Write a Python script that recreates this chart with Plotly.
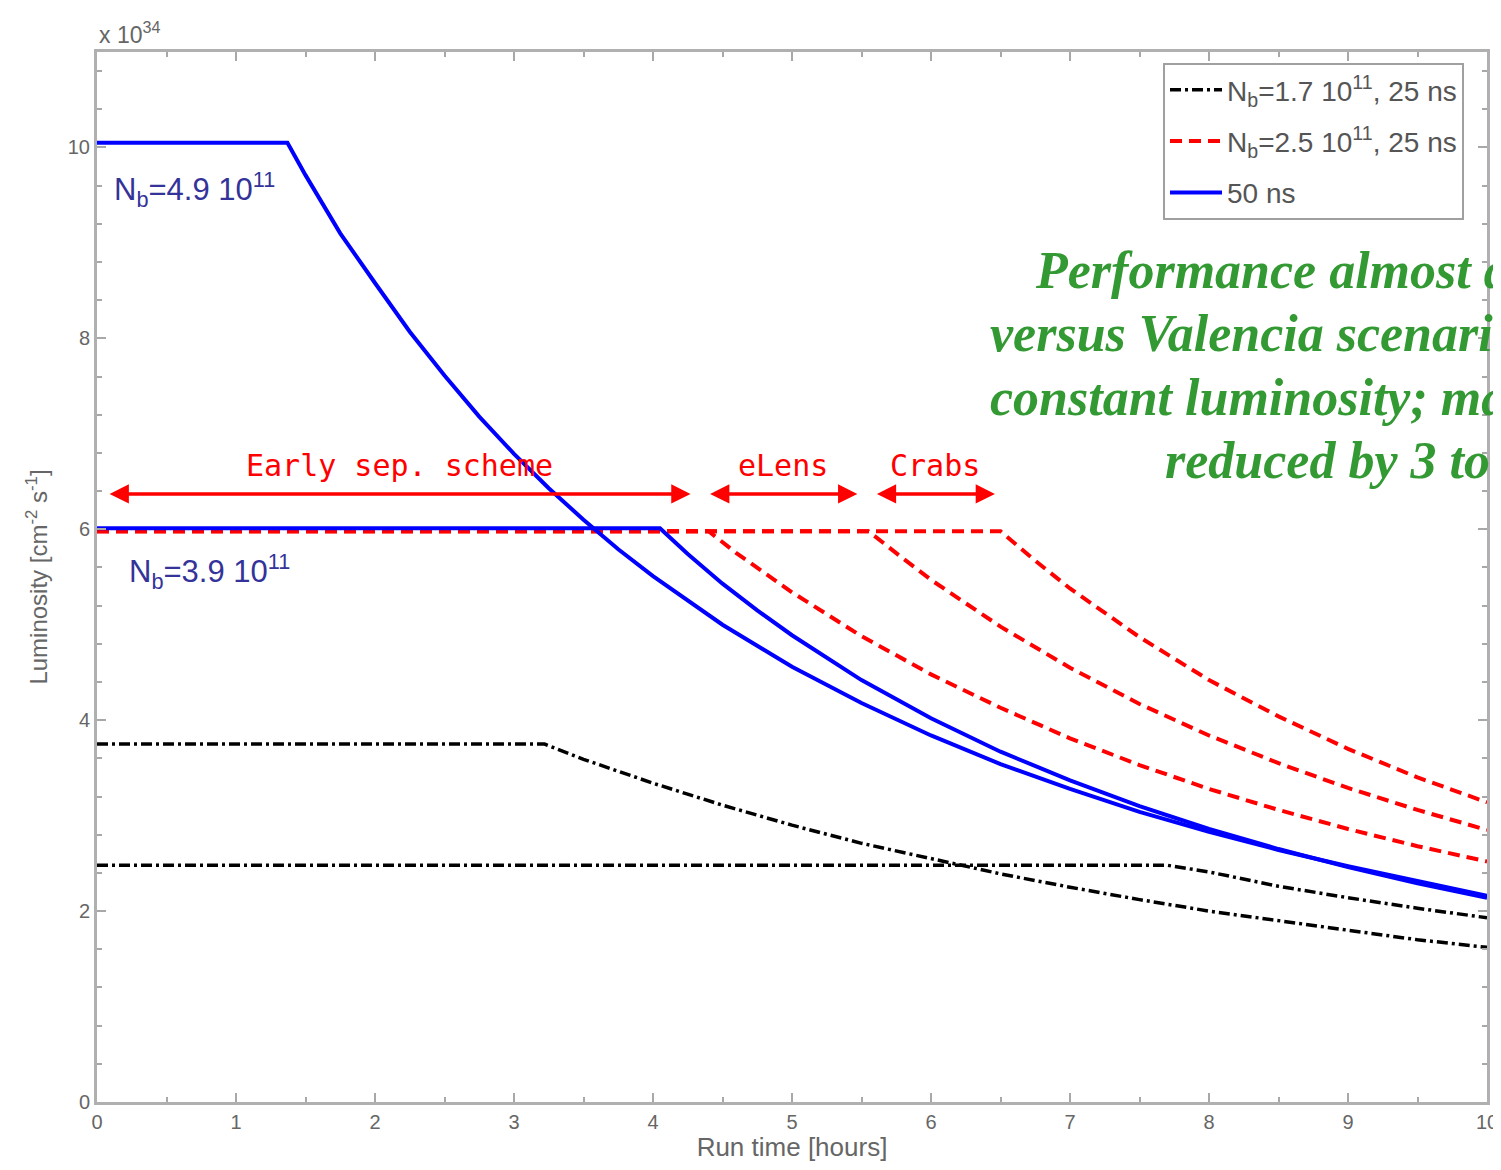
import plotly.graph_objects as go

# ---- data (luminosity in units of 1e34 cm^-2 s^-1, time in hours) ----
# 50 ns scenario (blue)
blue_a_t = [0, 1.37, 1.5, 1.75, 2.0, 2.25, 2.5, 2.75, 3.0, 3.25, 3.5, 3.75, 4.0, 4.5, 5.0,
            5.5, 6.0, 6.5, 7.0, 7.5, 8.0, 8.5, 9.0, 9.5, 10.0]
blue_a_L = [10.05, 10.05, 9.71, 9.10, 8.58, 8.07, 7.61, 7.18, 6.79, 6.43, 6.10, 5.79, 5.51, 5.00, 4.56,
            4.18, 3.84, 3.54, 3.28, 3.04, 2.83, 2.64, 2.47, 2.31, 2.16]
blue_b_t = [0, 4.05, 4.25, 4.5, 4.75, 5.0, 5.5, 6.0, 6.5, 7.0, 7.5, 8.0, 8.5, 9.0, 9.5, 10.0]
blue_b_L = [6.01, 6.01, 5.74, 5.43, 5.15, 4.89, 4.42, 4.02, 3.67, 3.37, 3.10, 2.86, 2.65, 2.46, 2.29, 2.14]

# Nb = 2.5e11, 25 ns (red)
red1_t = [0, 4.4, 4.6, 4.8, 5.0, 5.5, 6.0, 6.5, 7.0, 7.5, 8.0, 8.5, 9.0, 9.5, 10.0]
red1_L = [5.98, 5.98, 5.75, 5.54, 5.34, 4.88, 4.48, 4.13, 3.81, 3.53, 3.28, 3.06, 2.86, 2.68, 2.52]
red2_t = [0, 5.55, 5.75, 6.0, 6.5, 7.0, 7.5, 8.0, 8.5, 9.0, 9.5, 10.0]
red2_L = [5.98, 5.98, 5.75, 5.47, 4.98, 4.55, 4.17, 3.84, 3.55, 3.29, 3.06, 2.85]
red3_t = [0, 6.5, 6.75, 7.0, 7.5, 8.0, 8.5, 9.0, 9.5, 10.0]
red3_L = [5.98, 5.98, 5.67, 5.38, 4.87, 4.42, 4.04, 3.70, 3.40, 3.14]

# Nb = 1.7e11, 25 ns (black)
blk1_t = [0, 3.22, 3.5, 4.0, 4.5, 5.0, 5.5, 6.0, 6.5, 7.0, 7.5, 8.0, 8.5, 9.0, 9.5, 10.0]
blk1_L = [3.75, 3.75, 3.59, 3.34, 3.11, 2.90, 2.71, 2.55, 2.39, 2.25, 2.12, 2.00, 1.90, 1.80, 1.70, 1.62]
blk2_t = [0, 7.7, 8.0, 8.5, 9.0, 9.5, 10.0]
blk2_L = [2.48, 2.48, 2.41, 2.26, 2.14, 2.03, 1.93]

# legend labels
leg_black = "N<sub>b</sub>=1.7 10<sup>11</sup>, 25 ns"
leg_red = "N<sub>b</sub>=2.5 10<sup>11</sup>, 25 ns"
leg_blue = "50 ns"

# span arrows (start, end, label)
arrow_y = 6.37
arrow_spans = [(0.08, 4.27, "Early sep. scheme"), (4.40, 5.47, "eLens"), (5.60, 6.46, "Crabs")]

green_lines = ["Performance almost d", "versus Valencia scenario",
               "constant luminosity; ma", "reduced by 3 to"]

fig = go.Figure()

BLACK_DASH = "11px,4px,3px,4px"
RED_DASH = "12px,7px"

for i, (t, L) in enumerate([(blk1_t, blk1_L), (blk2_t, blk2_L)]):
    fig.add_trace(go.Scatter(x=t, y=L, mode="lines", name=leg_black,
                             legendgroup="black", showlegend=(i == 0),
                             line=dict(color="black", width=3.5, dash=BLACK_DASH)))
for i, (t, L) in enumerate([(red1_t, red1_L), (red2_t, red2_L), (red3_t, red3_L)]):
    fig.add_trace(go.Scatter(x=t, y=L, mode="lines", name=leg_red,
                             legendgroup="red", showlegend=(i == 0),
                             line=dict(color="#ff0000", width=4, dash=RED_DASH)))
for i, (t, L) in enumerate([(blue_a_t, blue_a_L), (blue_b_t, blue_b_L)]):
    fig.add_trace(go.Scatter(x=t, y=L, mode="lines", name=leg_blue,
                             legendgroup="blue", showlegend=(i == 0),
                             line=dict(color="#0000ff", width=4)))

# page has an 8px body margin; plot area target in page pixels
OFF = 8
PL, PR, PT, PB = 97, 1487, 52, 1102
FW, FH = 1501 - 2 * OFF, 1170 - 2 * OFF


def px2paper_x(px):
    return (px - PL) / (PR - PL)


def px2paper_y(py):
    return (PB - py) / (PB - PT)


annotations = []
for x0, x1, label in arrow_spans:
    annotations.append(dict(x=x1, y=arrow_y, ax=x0, ay=arrow_y, xref="x", yref="y",
                            axref="x", ayref="y", text="", showarrow=True,
                            arrowhead=2, arrowside="end+start", arrowsize=1.1,
                            arrowwidth=3.5, arrowcolor="#ff0000"))
    annotations.append(dict(x=(x0 + x1) / 2, y=6.67, xref="x", yref="y", text=label,
                            showarrow=False,
                            font=dict(family="DejaVu Sans Mono", size=30, color="#ff0000")))

annotations.append(dict(x=0.108, y=9.56, xref="x", yref="y", xanchor="left",
                        text="N<sub>b</sub>=4.9 10<sup>11</sup>", showarrow=False,
                        font=dict(family="Liberation Sans", size=31, color="#333399")))
annotations.append(dict(x=0.216, y=5.56, xref="x", yref="y", xanchor="left",
                        text="N<sub>b</sub>=3.9 10<sup>11</sup>", showarrow=False,
                        font=dict(family="Liberation Sans", size=31, color="#333399")))

green_pos = [(1033, 270), (988, 333), (988, 397), (1163, 461)]
for (px, py), txt in zip(green_pos, green_lines):
    annotations.append(dict(x=px2paper_x(px), y=px2paper_y(py), xref="paper", yref="paper",
                            xanchor="left", yanchor="middle", text="<b><i>" + txt + "</i></b>",
                            showarrow=False,
                            font=dict(family="Liberation Serif", size=52, color="#339933")))

annotations.append(dict(x=0, y=1.0, xref="paper", yref="paper", xanchor="left", yanchor="bottom",
                        yshift=2, text="x 10<sup>34</sup>", showarrow=False,
                        font=dict(family="Liberation Sans", size=23, color="#666666")))

axis_common = dict(showgrid=False, zeroline=False, showline=True, linecolor="#b0b0b0",
                   linewidth=3, mirror="ticks", ticks="inside", ticklen=9, tickwidth=2,
                   tickcolor="#a8a8a8", ticklabeloverflow="allow", automargin=False,
                   tickfont=dict(family="Liberation Sans", size=20, color="#666666"))

fig.update_layout(
    width=FW, height=FH,
    margin=dict(l=PL - OFF, r=(FW + OFF) - PR, t=PT - OFF, b=(FH + OFF) - PB),
    paper_bgcolor="white", plot_bgcolor="white",
    annotations=annotations,
    showlegend=True,
    legend=dict(x=px2paper_x(1163), y=px2paper_y(63), xanchor="left", yanchor="top",
                bordercolor="#a0a0a0", borderwidth=2, bgcolor="white",
                font=dict(family="Liberation Sans", size=28, color="#555555"),
                tracegroupgap=12, itemwidth=52),
    xaxis=dict(range=[0, 10], dtick=1, tick0=0,
               minor=dict(dtick=0.5, ticklen=5, tickcolor="#a8a8a8", ticks="inside"),
               title=dict(text="Run time [hours]", standoff=6,
                          font=dict(family="Liberation Sans", size=26, color="#666666")),
               **axis_common),
    yaxis=dict(range=[0, 11], tickvals=[0, 2, 4, 6, 8, 10],
               minor=dict(dtick=0.4, tick0=0, ticklen=5, tickcolor="#a8a8a8", ticks="inside"),
               title=dict(text="Luminosity [cm<sup>-2</sup> s<sup>-1</sup>]", standoff=14,
                          font=dict(family="Liberation Sans", size=24, color="#666666")),
               **axis_common),
)

fig.write_html("out.html")
